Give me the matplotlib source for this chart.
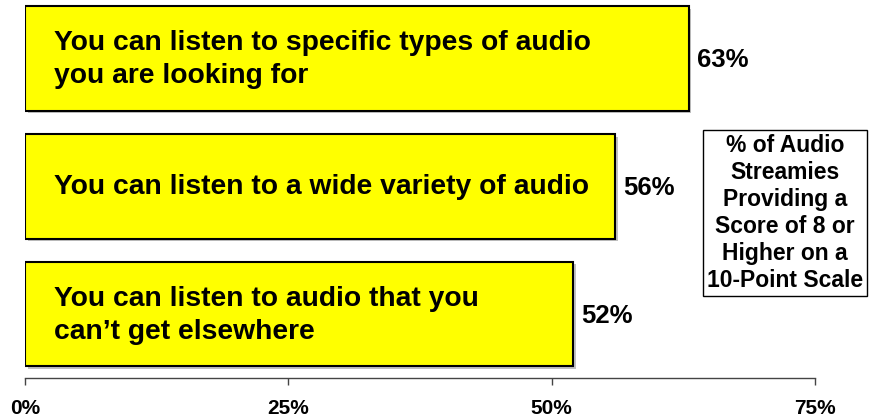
import matplotlib
matplotlib.use("Agg")
import matplotlib.pyplot as plt
import matplotlib.patheffects as pe

# data
labels = ["You can listen to specific types of audio\nyou are looking for",
          "You can listen to a wide variety of audio",
          "You can listen to audio that you\ncan\u2019t get elsewhere"]
values = [63, 56, 52]
ticks = [0, 25, 50, 75]
tick_labels = ["0%", "25%", "50%", "75%"]
note = "% of Audio\nStreamies\nProviding a\nScore of 8 or\nHigher on a\n10-Point Scale"

plt.rcParams['font.family'] = ['Liberation Sans', 'DejaVu Sans']

fig = plt.figure(figsize=(8.74, 4.18), dpi=100)
ax = fig.add_axes([25/874, 1 - 378/418, (815-25)/874, 376/418])

ypos = list(range(len(values)))
shadow = [pe.SimplePatchShadow(offset=(2, -2), shadow_rgbFace='#999999', alpha=0.6), pe.Normal()]
bars = ax.barh(ypos, values, height=0.82, color='#FFFF00', edgecolor='black', linewidth=1.5)
for b in bars:
    b.set_path_effects(shadow)

for y, v, lab in zip(ypos, values, labels):
    ax.text(2.8, y + 0.01, lab, ha='left', va='center', fontsize=20.3, fontweight='bold', linespacing=1.35)
    ax.text(v + 0.8, y + 0.015, f"{v}%", ha='left', va='center', fontsize=18.5, fontweight='bold')

ax.set_xlim(0, 75)
ax.set_ylim(2.5, -0.44)
ax.set_xticks(ticks)
ax.set_xticklabels(tick_labels, fontsize=15, fontweight='bold')
ax.set_yticks([])
ax.tick_params(axis='x', direction='out', length=5, width=1, pad=10, color='#444444')
for s in ['top', 'right', 'left']:
    ax.spines[s].set_visible(False)
ax.spines['bottom'].set_color('#444444')
ax.spines['bottom'].set_linewidth(1)

fig.text(785/874, 1 - 213/418, note, ha='center', va='center', fontsize=16.5, fontweight='bold',
         linespacing=1.22,
         bbox=dict(boxstyle='square,pad=0.18', facecolor='white', edgecolor='black', linewidth=1))

fig.savefig("out.png", dpi=100)
